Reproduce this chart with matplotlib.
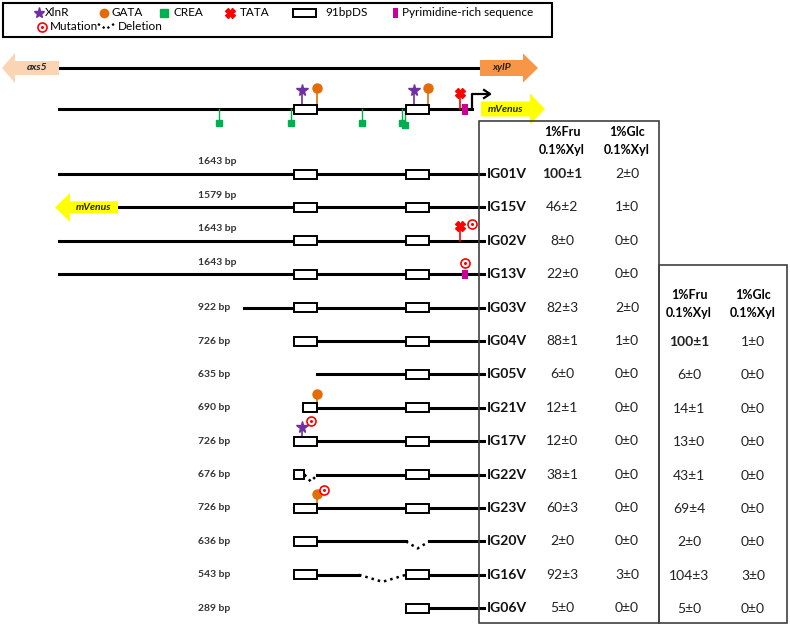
import matplotlib
matplotlib.use('Agg')
import matplotlib.pyplot as plt
from matplotlib.patches import Rectangle, Polygon

plt.rcParams['font.family'] = ['Lato', 'DejaVu Sans']

# constructs, lengths (bp upstream of the start codon) and activities
names = ['IG01V', 'IG15V', 'IG02V', 'IG13V', 'IG03V', 'IG04V', 'IG05V',
         'IG21V', 'IG17V', 'IG22V', 'IG23V', 'IG20V', 'IG16V', 'IG06V']
lengths = [1643, 1579, 1643, 1643, 922, 726, 635, 690, 726, 676, 726, 636, 543, 289]
fru_mean = [100, 46, 8, 22, 82, 88, 6, 12, 12, 38, 60, 2, 92, 5]
fru_sd = [1, 2, 0, 0, 3, 1, 0, 1, 0, 1, 3, 0, 3, 0]
glc_mean = [2, 1, 0, 0, 2, 1, 0, 0, 0, 0, 0, 0, 3, 0]
glc_sd = [0] * 14

# second set, normalised to IG04V
names2 = ['IG04V', 'IG05V', 'IG21V', 'IG17V', 'IG22V', 'IG23V', 'IG20V', 'IG16V', 'IG06V']
fru2_mean = [100, 6, 14, 13, 43, 69, 2, 104, 5]
fru2_sd = [1, 0, 1, 0, 1, 4, 0, 3, 0]
glc2_mean = [1, 0, 0, 0, 0, 0, 0, 3, 0]
glc2_sd = [0] * 9

# promoter features in bp upstream
full_len = 1643
boxes = [(726, 635), (289, 198)]
xlnr_sites = [695, 258]
gata_sites = [636, 203]
crea_sites = [1019, 738, 461, 304, 293]
tata_site = 78
pyr_site = 58
tss_site = 31
deletions = {'IG22V': [(685, 635)], 'IG20V': [(289, 198)], 'IG16V': [(472, 289)]}

C_XLNR = '#7030A0'
C_GATA = '#E36C09'
C_CREA = '#00B050'
C_TATA = '#FF0000'
C_PYR = '#CC0099'

fig = plt.figure(figsize=(7.9, 6.26), dpi=100)
ax = fig.add_axes([0, 0, 1, 1])
ax.set_xlim(0, 790)
ax.set_ylim(626, 0)
ax.axis('off')

X0, X1 = 59, 480
scale = (X1 - X0) / full_len


def xp(bp):
    return X1 - bp * scale


def block_arrow(x_tail, x_tip, y, bh, hh, hl, color, label):
    d = 1 if x_tip > x_tail else -1
    xb = x_tip - d * hl
    pts = [(x_tail, y - bh), (xb, y - bh), (xb, y - hh), (x_tip, y),
           (xb, y + hh), (xb, y + bh), (x_tail, y + bh)]
    ax.add_patch(Polygon(pts, closed=True, fc=color, ec='none', zorder=3))
    ax.text((x_tail + xb) / 2, y, label, ha='center', va='center', fontsize=7.5,
            fontweight='bold', style='italic', color='#222222', zorder=4)


def dna_box(x_a, x_b, y, z=4):
    ax.add_patch(Rectangle((x_a, y - 4.5), x_b - x_a, 9, fc='white', ec='black',
                           lw=1.4, zorder=z))


def mutation(x, y):
    ax.plot(x, y, 'o', ms=6.5, mfc='white', mec=C_TATA, mew=1.2, zorder=6)
    ax.plot(x, y, 'o', ms=1.2, color=C_TATA, zorder=7)


def stem_marker(x, y, top, color, marker, ms):
    ax.plot([x, x], [y, top], color=color, lw=1.2, zorder=3)
    ax.plot(x, top, marker, ms=ms, color=color, mec=color, zorder=5)


# legend box
ax.add_patch(Rectangle((3, 3), 549, 34, fc='white', ec='black', lw=1.5, zorder=2))
ly1, ly2 = 13, 27
lfs = 8.5
ax.plot(39, ly1, '*', ms=8, color=C_XLNR)
ax.text(45, ly1, 'XlnR', va='center', fontsize=lfs)
ax.plot(104, ly1, 'o', ms=6, color=C_GATA)
ax.text(112, ly1, 'GATA', va='center', fontsize=lfs)
ax.plot(164, ly1, 's', ms=6, color=C_CREA)
ax.text(173, ly1, 'CREA', va='center', fontsize=lfs)
ax.plot(230, ly1, 'X', ms=7, color=C_TATA)
ax.text(240, ly1, 'TATA', va='center', fontsize=lfs)
ax.add_patch(Rectangle((293, ly1 - 4), 23, 8, fc='white', ec='black', lw=1.4, zorder=3))
ax.text(325, ly1 - 1, '91bpDS', va='center', fontsize=lfs)
ax.add_patch(Rectangle((393, ly1 - 5), 5, 10, fc=C_PYR, ec='none', zorder=3))
ax.text(402, ly1, 'Pyrimidine-rich sequence', va='center', fontsize=lfs)
mutation(42, ly2)
ax.text(50, ly2, 'Mutation', va='center', fontsize=lfs)
ax.plot([98, 106, 114], [ly2 - 3, ly2 + 2, ly2 - 3], color='black', lw=1.6,
        ls=(0, (1, 1.5)))
ax.text(118, ly2, 'Deletion', va='center', fontsize=lfs)

# genomic locus
ly = 68
ax.plot([X0, X1], [ly, ly], color='black', lw=2.2, zorder=2)
block_arrow(X0, 2, ly, 7, 15, 13, '#FBD4B4', 'axs5')
block_arrow(X1, 538, ly, 8, 14.5, 15, '#F79646', 'xylP')

# promoter detail
py = 109
ax.plot([X0, xp(tss_site)], [py, py], color='black', lw=2.2, zorder=2)
for hi, lo in boxes:
    dna_box(xp(hi), xp(lo), py)
for s in xlnr_sites:
    stem_marker(xp(s), py - 4, 90, C_XLNR, '*', 8.5)
for s in gata_sites:
    stem_marker(xp(s), py - 4, 88, C_GATA, 'o', 6.5)
for i, s in enumerate(crea_sites):
    low = 125 if i == len(crea_sites) - 1 else 123
    ax.plot([xp(s), xp(s)], [py, low], color=C_CREA, lw=1, zorder=3)
    ax.plot(xp(s), low, 's', ms=5, color=C_CREA, zorder=5)
stem_marker(xp(tata_site), py, 93, C_TATA, 'X', 7)
ax.add_patch(Rectangle((xp(pyr_site) - 3, py - 5.5), 6, 11, fc=C_PYR, ec='none', zorder=5))
tx = xp(tss_site)
ax.plot([tx, tx, tx + 17], [py, 94, 94], color='black', lw=1.6, zorder=4)
ax.plot([tx + 12, tx + 18, tx + 12], [90, 94, 98], color='black', lw=1.6, zorder=4)
block_arrow(481, 545, py, 7.5, 15.5, 15, '#FFFF00', 'mVenus')

# constructs
row_y0, row_dy = 174, 33.4
for i, (nm, ln) in enumerate(zip(names, lengths)):
    y = row_y0 + i * row_dy
    dels = deletions.get(nm, [])
    full_start = ln + sum(a - b for a, b in dels)
    if nm == 'IG15V':
        block_arrow(118, 55, y, 6, 14.5, 15, '#FFFF00', 'mVenus')
        x_start = 118
    else:
        x_start = xp(full_start)
    # solid line with gaps at deletions
    cuts = [x_start]
    for hi, lo in dels:
        cuts += [xp(hi), xp(lo)]
    cuts.append(X1 + 4)
    for k in range(0, len(cuts), 2):
        ax.plot([cuts[k], cuts[k + 1]], [y, y], color='black', lw=2.2, zorder=2)
    for hi, lo in dels:
        xa, xb = xp(hi), xp(lo)
        ax.plot([xa, (xa + xb) / 2, xb], [y, y + 7, y], color='black', lw=1.8,
                ls=(0, (1, 1.6)), zorder=3)
    for hi, lo in boxes:
        hi = min(hi, full_start)
        for dh, dl in dels:
            if dl <= lo and dh >= hi:
                hi = lo
            elif dl <= lo < dh < hi:
                lo = dh
        if hi > lo:
            dna_box(xp(hi), xp(lo), y)
    lab_y = y - 12 if i < 4 else y
    ax.text(198, lab_y, f'{ln} bp', va='center', ha='left', fontsize=7.5,
            fontweight='bold', color='#333333')

    if nm == 'IG02V':
        stem_marker(xp(tata_site), y, y - 15, C_TATA, 'X', 7)
        mutation(xp(tata_site) + 12, y - 17)
    if nm == 'IG13V':
        ax.add_patch(Rectangle((xp(pyr_site) - 3, y - 4), 6, 9, fc=C_PYR, ec='none', zorder=5))
        mutation(xp(pyr_site), y - 11)
    if nm == 'IG21V':
        stem_marker(xp(gata_sites[0]), y - 4, y - 14, C_GATA, 'o', 6.5)
    if nm == 'IG17V':
        stem_marker(xp(xlnr_sites[0]), y - 4, y - 14, C_XLNR, '*', 8.5)
        mutation(xp(xlnr_sites[0]) + 9, y - 20)
    if nm == 'IG23V':
        stem_marker(xp(gata_sites[0]), y - 4, y - 14, C_GATA, 'o', 6.5)
        mutation(xp(gata_sites[0]) + 7, y - 18)

# table 1
tcol = '#404040'
ax.add_patch(Rectangle((479, 121), 180, 502, fc='none', ec=tcol, lw=1.2, zorder=5))
hfs = 9
vfs = 10
for cx, top in [(562, '1%Fru'), (627, '1%Glc')]:
    ax.text(cx, 132, top, ha='center', va='center', fontsize=hfs, fontweight='bold')
    ax.text(cx, 150, '0.1%Xyl', ha='center', va='center', fontsize=hfs, fontweight='bold')
for i, nm in enumerate(names):
    y = row_y0 + i * row_dy
    ax.text(487, y, nm, ha='left', va='center', fontsize=vfs, fontweight='bold',
            color='#111111')
    bold = 'bold' if fru_mean[i] == 100 else 'normal'
    ax.text(562, y, f'{fru_mean[i]}\u00b1{fru_sd[i]}', ha='center', va='center',
            fontsize=vfs, fontweight=bold, color='#222222')
    ax.text(627, y, f'{glc_mean[i]}\u00b1{glc_sd[i]}', ha='center', va='center',
            fontsize=vfs, color='#222222')

# table 2
ax.add_patch(Rectangle((659, 265), 128, 358, fc='none', ec=tcol, lw=1.2, zorder=5))
for cx, top in [(689, '1%Fru'), (753, '1%Glc')]:
    ax.text(cx, 295, top, ha='center', va='center', fontsize=hfs, fontweight='bold')
    ax.text(cx, 313, '0.1%Xyl', ha='center', va='center', fontsize=hfs, fontweight='bold')
for j, nm in enumerate(names2):
    y = row_y0 + names.index(nm) * row_dy + 1
    bold = 'bold' if fru2_mean[j] == 100 else 'normal'
    ax.text(689, y, f'{fru2_mean[j]}\u00b1{fru2_sd[j]}', ha='center', va='center',
            fontsize=vfs, fontweight=bold, color='#222222')
    ax.text(753, y, f'{glc2_mean[j]}\u00b1{glc2_sd[j]}', ha='center', va='center',
            fontsize=vfs, color='#222222')

fig.savefig('out.png', dpi=100)
